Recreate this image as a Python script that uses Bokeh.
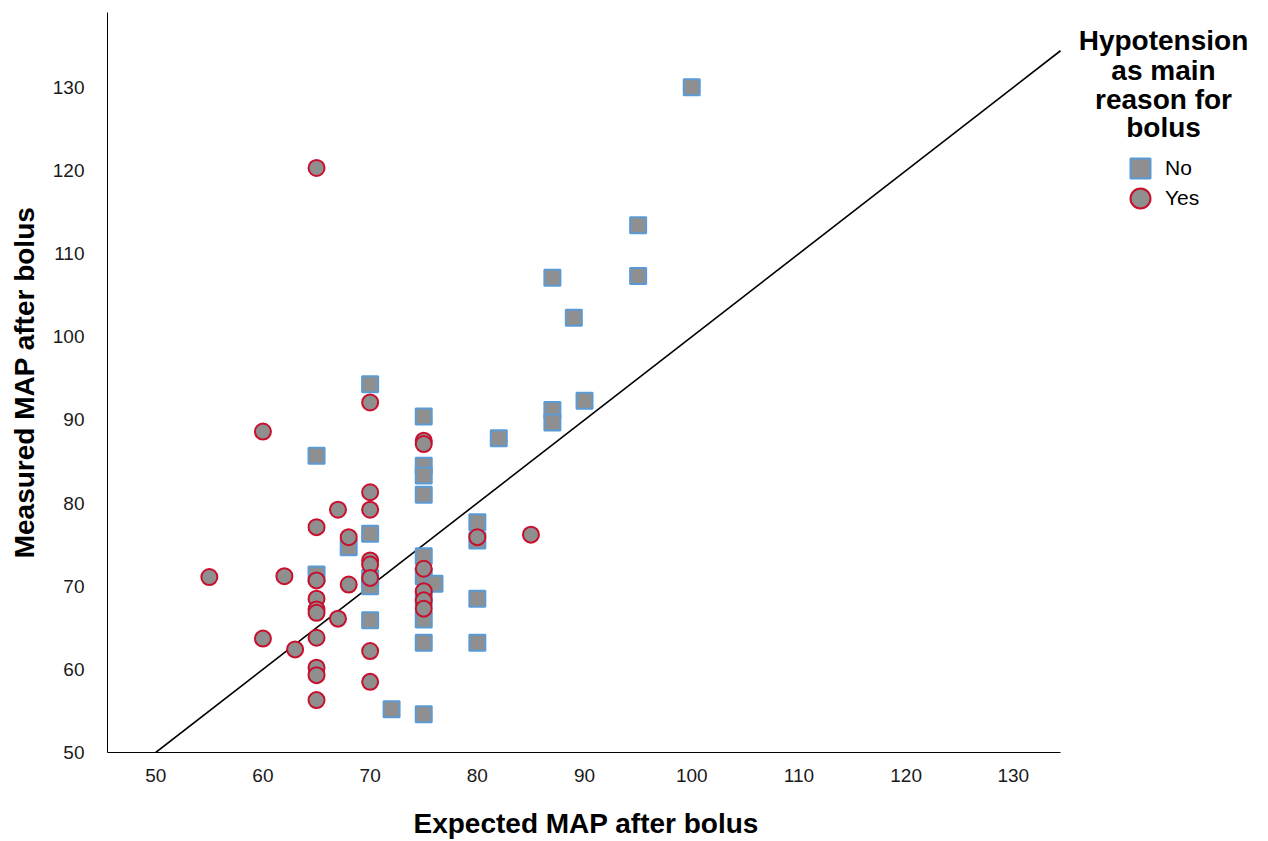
from bokeh.plotting import figure
from bokeh.models import (ColumnDataSource, Range1d, FixedTicker, Legend,
                          LegendItem, Label, Title)
from bokeh.embed import file_html
from bokeh.resources import INLINE

# ---- data ----
x_no = [100, 95, 95, 87, 89, 90, 87, 87, 82, 70, 75, 75, 75, 75, 65, 70, 68, 65,
        70, 70, 70, 72, 75, 75, 75, 75, 75, 76, 75, 80, 80, 80, 80]
y_no = [130, 113.4, 107.3, 107.1, 102.3, 92.3, 91.2, 89.7, 87.8, 94.3, 90.4, 84.5,
        83.3, 81.0, 85.7, 76.3, 74.7, 71.4, 71.0, 70.0, 65.9, 55.2, 54.6, 73.6, 71.2,
        68.5, 66.0, 70.3, 63.2, 77.7, 75.5, 68.5, 63.2]

x_yes = [65, 70, 60, 75, 75, 70, 67, 70, 65, 68, 85, 80, 55, 62, 65, 68, 70, 70, 70,
         75, 75, 75, 75, 65, 65, 65, 67, 60, 65, 63, 70, 65, 65, 70, 65]
y_yes = [120.3, 92.1, 88.6, 87.5, 87.1, 81.3, 79.2, 79.2, 77.1, 75.9, 76.2, 75.9, 71.1,
         71.2, 70.7, 70.2, 73.1, 72.6, 71.0, 72.1, 69.4, 68.3, 67.3, 68.5, 67.2, 66.8,
         66.1, 63.7, 63.8, 62.4, 62.2, 60.2, 59.3, 58.5, 56.3]

ticks = [50, 60, 70, 80, 90, 100, 110, 120, 130]
legend_title_lines = ["Hypotension", "as main", "reason for", "bolus"]
group_labels = ["No", "Yes"]
x_title = "Expected MAP after bolus"
y_title = "Measured MAP after bolus"

X_START, X_END = 45.5, 134.4      # extent of the drawn x axis
Y_START, Y_END = 50, 139
ref_line = [ticks[0], X_END]      # identity line y = x

FONT = "Liberation Sans"
FILL = "#8f8f8f"
BLUE = "#5b9bd5"
RED = "#c8102e"

# frame spans to the right edge so the legend (outside the axes) is not clipped
p = figure(width=1268, height=841, output_backend="svg", toolbar_location=None,
           x_range=Range1d(X_START, X_START + (1268 - 107) / 10.72),
           y_range=Range1d(Y_START, Y_END),
           min_border_left=107, min_border_right=0, min_border_top=12,
           min_border_bottom=89)
p.outline_line_color = None
p.xgrid.visible = False
p.ygrid.visible = False
p.background_fill_color = "white"
p.border_fill_color = "white"

for ax in (p.xaxis[0], p.yaxis[0]):
    ax.ticker = FixedTicker(ticks=ticks)
    ax.major_tick_line_color = None
    ax.minor_tick_line_color = None
    ax.axis_line_color = "black"
    ax.axis_line_width = 1
    ax.major_label_text_font = FONT
    ax.major_label_text_font_size = "19px"
    ax.major_label_text_color = "#1a1a1a"
    ax.axis_label_text_font = FONT
    ax.axis_label_text_font_size = "28px"
    ax.axis_label_text_font_style = "bold"
    ax.axis_label_text_color = "black"

p.xaxis[0].bounds = (X_START, X_END)
p.yaxis[0].axis_label = y_title
p.xaxis[0].major_label_standoff = 10
p.yaxis[0].major_label_standoff = 17
p.yaxis[0].axis_label_standoff = 10

# spacer + x axis title, centred under the drawn axis (not under the wider frame)
p.add_layout(Title(text=" ", text_font_size="1px", standoff=18), "below")
p.add_layout(Title(text=x_title, align="left", offset=306, standoff=0,
                   text_font=FONT, text_font_size="28px", text_font_style="bold",
                   text_color="black"), "below")

# identity reference line
p.line(ref_line, ref_line, line_color="black", line_width=1.6)

src_no = ColumnDataSource(dict(x=x_no, y=y_no))
src_yes = ColumnDataSource(dict(x=x_yes, y=y_yes))
r_no = p.scatter("x", "y", source=src_no, marker="square", size=16,
                 fill_color=FILL, line_color=BLUE, line_width=2)
r_yes = p.scatter("x", "y", source=src_yes, marker="circle", size=16,
                  fill_color=FILL, line_color=RED, line_width=2)

for lab, rend, ybot in ((group_labels[0], r_no, 559), (group_labels[1], r_yes, 529)):
    p.add_layout(Legend(items=[LegendItem(label=lab, renderers=[rend])],
                        location=(1008, ybot), glyph_height=50, glyph_width=50,
                        label_standoff=0, padding=0, margin=0,
                        border_line_color=None, background_fill_alpha=0,
                        label_text_font=FONT, label_text_font_size="21px",
                        label_text_color="black"))

centers = [712, 682, 653, 625]
for txt, yy in zip(legend_title_lines, centers):
    p.add_layout(Label(x=1056, y=yy, x_units="screen", y_units="screen", text=txt,
                       text_align="center", text_baseline="middle",
                       text_font=FONT, text_font_size="28px", text_font_style="bold",
                       text_color="black"))

open("out.html", "w").write(file_html(p, INLINE))
